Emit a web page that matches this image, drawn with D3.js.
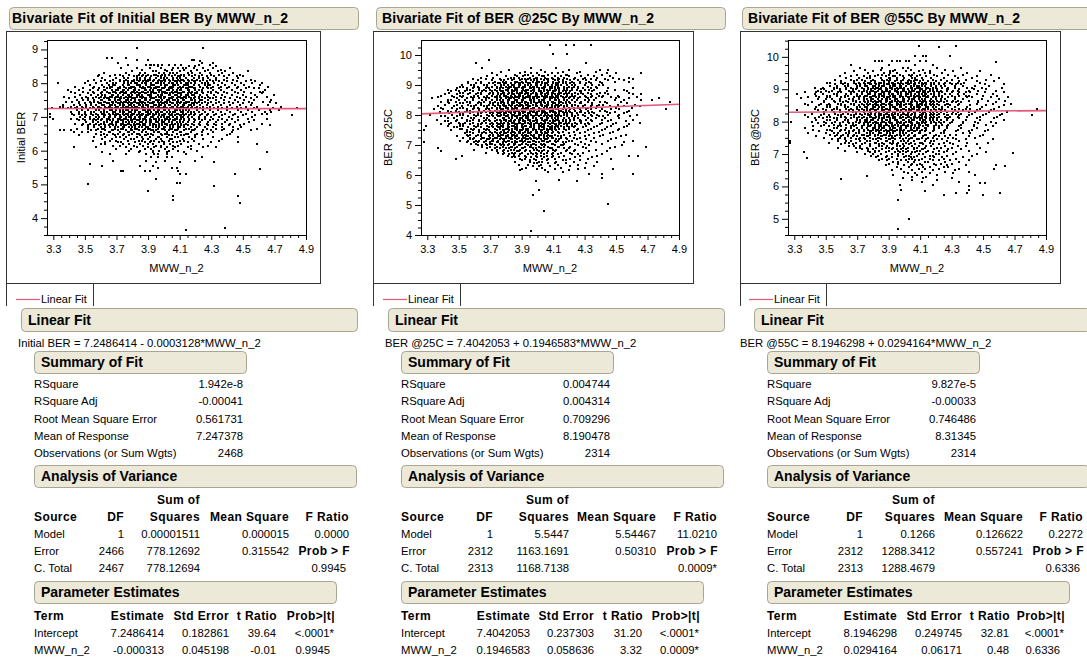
<!DOCTYPE html>
<html><head><meta charset="utf-8">
<script src="https://cdn.jsdelivr.net/npm/d3@7"></script>
<style>
html,body{margin:0;padding:0;background:#fff;}
svg{display:block;}
</style></head><body>
<svg id="chart" width="1087" height="659"></svg>
<script>
// ---- Report text ----
const panelTitles = ["Bivariate Fit of Initial BER By MWW_n_2", "Bivariate Fit of BER @25C By MWW_n_2", "Bivariate Fit of BER @55C By MWW_n_2"];
const responseNames = ["Initial BER", "BER @25C", "BER @55C"];
const factorName = "MWW_n_2";
const xTickValues = [3.3, 3.5, 3.7, 3.9, 4.1, 4.3, 4.5, 4.7, 4.9];
const yTicksInitial = [4, 5, 6, 7, 8, 9];
const yTicks25 = [4, 5, 6, 7, 8, 9, 10];
const yTicks55 = [5, 6, 7, 8, 9, 10];
const fitIntercepts = [7.2486414, 7.4042053, 8.1946298];
const fitSlopes = [-0.0003128, 0.1946583, 0.0294164];
const equations = ["Initial BER = 7.2486414 - 0.0003128*MWW_n_2", "BER @25C = 7.4042053 + 0.1946583*MWW_n_2", "BER @55C = 8.1946298 + 0.0294164*MWW_n_2"];
const summaryLabels = ["RSquare", "RSquare Adj", "Root Mean Square Error", "Mean of Response", "Observations (or Sum Wgts)"];
const summaryInitial = ["1.942e-8", "-0.00041", "0.561731", "7.247378", "2468"];
const summary25 = ["0.004744", "0.004314", "0.709296", "8.190478", "2314"];
const summary55 = ["9.827e-5", "-0.00033", "0.746486", "8.31345", "2314"];
const anovaHeader = ["Source", "DF", "Squares", "Mean Square", "F Ratio"];
const anovaInitial = [["Model", "1", "0.00001511", "0.000015", "0.0000"], ["Error", "2466", "778.12692", "0.315542", "Prob > F"], ["C. Total", "2467", "778.12694", "", "0.9945"]];
const anova25 = [["Model", "1", "5.5447", "5.54467", "11.0210"], ["Error", "2312", "1163.1691", "0.50310", "Prob > F"], ["C. Total", "2313", "1168.7138", "", "0.0009*"]];
const anova55 = [["Model", "1", "0.1266", "0.126622", "0.2272"], ["Error", "2312", "1288.3412", "0.557241", "Prob > F"], ["C. Total", "2313", "1288.4679", "", "0.6336"]];
const paramHeader = ["Term", "Estimate", "Std Error", "t Ratio", "Prob>|t|"];
const paramInitial = [["Intercept", "7.2486414", "0.182861", "39.64", "<.0001*"], ["MWW_n_2", "-0.000313", "0.045198", "-0.01", "0.9945"]];
const param25 = [["Intercept", "7.4042053", "0.237303", "31.20", "<.0001*"], ["MWW_n_2", "0.1946583", "0.058636", "3.32", "0.0009*"]];
const param55 = [["Intercept", "8.1946298", "0.249745", "32.81", "<.0001*"], ["MWW_n_2", "0.0294164", "0.06171", "0.48", "0.6336"]];

// ---- Observations, grouped by response level ----
// each row: [response x 100, [MWW_n_2 x 100, ...]]
const rowsInitial = [
[905,[383,425]],[875,[364,367,376]],[870,[383,390,418,419]],[865,[423]],[860,[371,424,431]],
[855,[377,389,391,392,394,396,399,403,407,411,422,429]],[850,[396,416,420,433]],
[845,[373,383,391,398,406,409,412,414,419,425,431,442]],[840,[386,401,405,413,421,428,436]],
[835,[380,393,395,402,410,417,426,434,439,453]],[830,[362,376,385,388,397,400,404,406,408,415,418,423,429,437,444]],
[825,[359,369,372,378,384,387,390,394,395,399,401,403,407,411,413,416,420,424,430,435,441,448]],
[820,[358,366,374,381,383,386,389,392,396,398,401,405,409,410,413,418,422,427,432,438,446,450]],
[815,[361,370,375,377,383,385,388,391,395,398,400,402,406,408,410,414,419,422,425,428,433,440,447]],
[810,[356,363,368,372,376,381,383,385,388,390,391,394,397,400,401,403,406,409,411,412,415,418,421,425,429,433,438,444,455]],
[805,[352,360,366,372,375,377,380,381,384,387,389,390,393,396,398,399,401,404,407,408,410,413,416,419,420,423,427,431,435,440,446,452,458]],
[800,[333,350,357,364,368,370,375,377,379,382,383,386,388,389,392,395,396,398,400,403,405,406,408,411,414,415,417,420,424,426,428,432,437,443,449,456,462]],
[795,[353,361,365,368,369,374,377,378,383,384,385,389,392,393,394,398,401,402,406,407,409,413,414,415,419,422,426,428,429,434,439,445,451,461]],
[790,[344,356,362,366,367,372,375,379,380,381,385,387,390,391,395,396,397,401,404,405,406,410,412,416,417,418,423,427,431,436,441,447,454,466]],
[785,[349,355,359,364,366,371,372,376,378,379,382,386,387,388,392,394,395,399,400,403,404,405,409,411,414,415,419,420,425,428,430,435,440,446,452,457,460]],
[780,[339,346,353,358,362,363,367,370,371,374,375,377,381,382,384,388,389,391,393,396,397,398,402,403,406,408,410,411,415,416,420,422,424,431,436,443,449,464]],
[775,[341,349,355,361,364,368,369,373,374,376,380,381,383,386,387,390,392,393,397,399,400,401,405,407,408,412,413,416,418,421,424,428,430,433,438,445,451,461,463]],
[770,[344,352,356,360,365,366,370,372,375,376,379,382,384,385,388,389,392,394,395,399,401,402,404,406,409,410,411,415,417,420,421,425,430,434,440,447,455,462]],
[765,[347,354,358,361,363,367,368,371,374,377,378,380,383,384,386,390,391,392,396,398,399,403,404,407,408,411,414,415,418,419,423,427,432,437,443,450,458,470]],
[760,[337,344,351,357,360,363,366,367,370,371,373,376,378,379,383,385,386,387,391,392,395,397,398,400,401,405,406,409,410,413,414,416,420,422,424,428,433,439,446,452,459,465]],
[755,[340,348,352,355,359,362,364,365,369,372,373,375,377,380,381,382,386,388,389,392,393,394,398,400,403,404,405,408,411,412,414,417,419,422,426,429,431,436,442,448,455]],
[750,[345,349,352,356,360,361,365,366,369,371,372,376,377,379,382,384,385,388,389,391,395,396,397,399,402,403,406,407,409,412,413,417,418,420,423,424,428,433,438,445,451,457,468]],
[745,[338,342,346,353,356,358,362,363,367,368,370,373,375,376,378,381,382,385,386,387,390,393,394,396,398,401,402,404,408,409,411,414,415,416,420,422,426,430,435,441,447,454,463,467]],
[740,[346,350,354,359,360,364,365,368,371,372,374,377,379,380,383,384,386,388,391,392,393,397,399,400,402,405,406,408,410,413,414,418,419,421,424,428,433,438,444,450,456,471]],
[735,[336,343,347,351,354,357,361,362,366,367,369,372,374,375,378,379,381,384,385,387,389,390,394,395,397,398,401,403,404,407,409,412,413,416,417,419,423,427,431,436,442,448,455,466]],
[730,[334,336,341,345,348,351,355,358,359,363,365,366,370,371,374,376,377,380,382,383,386,387,390,392,393,396,397,400,401,405,406,408,411,412,415,418,421,425,429,434,440,446,452,459,474]],
[725,[329,339,344,349,353,356,360,363,364,367,369,370,373,375,378,379,381,384,386,387,388,392,393,395,398,399,402,404,405,409,410,413,414,417,420,423,427,432,437,443,449,457,469,484]],
[720,[345,348,352,357,359,362,366,367,370,372,374,376,377,380,382,383,387,388,390,391,394,396,397,400,401,403,407,408,410,412,414,416,421,425,429,434,440,447,453,460,467,473]],
[715,[341,346,350,354,356,360,362,364,368,369,372,374,375,378,379,382,384,385,389,390,392,395,396,398,399,402,404,406,407,411,412,415,417,419,422,426,431,436,442,449,456,464,468]],
[710,[328,342,346,350,354,357,361,362,365,368,370,371,374,376,377,380,381,384,386,387,390,391,393,395,397,400,401,403,405,408,409,412,414,417,420,424,428,433,439,445,452,462,465]],
[705,[343,348,351,355,358,362,363,366,369,370,372,375,377,379,380,383,385,386,389,390,393,394,397,399,400,404,405,407,410,411,413,416,419,423,427,432,437,444,450,458,481]],
[700,[328,347,350,353,357,359,362,365,366,369,372,373,376,378,379,382,384,385,388,389,392,393,396,398,400,402,403,406,408,411,412,415,418,422,426,430,435,441,447,456]],
[695,[330,341,345,349,353,356,358,361,364,365,368,371,372,375,376,379,381,382,385,387,388,391,394,395,397,401,402,404,407,408,411,413,416,419,422,426,431,437,443,453,465]],
[690,[346,350,355,357,360,364,366,368,371,373,374,377,379,380,383,384,387,389,391,392,395,397,399,401,403,406,407,410,413,416,420,424,429,434,440,447,457]],
[685,[351,355,358,362,364,367,370,371,374,376,378,380,382,385,386,389,391,392,395,396,399,400,403,405,408,410,412,415,419,423,428,433,439,445,454]],
[680,[344,349,353,357,360,362,366,367,370,373,374,377,378,381,383,384,387,388,391,393,394,397,399,401,402,405,407,409,411,414,418,422,427,432,437,442,451,462]],
[675,[348,352,356,359,363,365,368,370,373,375,376,379,381,382,385,387,388,391,393,395,397,399,402,404,406,409,411,413,415,419,423,428,433,441,448,467]],
[670,[352,356,360,363,366,369,371,374,375,378,380,382,384,386,389,390,393,395,397,400,401,404,406,409,410,413,417,421,426,431,437,444,449]],
[665,[345,352,358,361,362,369,373,374,379,382,383,388,390,391,396,399,400,404,405,409,414,416,420,427,433,438,447,459]],
[660,[334,337,341,354,357,363,367,368,371,376,379,380,384,387,392,393,395,401,403,407,408,413,418,419,425,430,437,444,455]],
[655,[343,348,352,360,365,366,372,377,378,381,386,389,394,396,397,402,406,410,411,417,424,431,443]],
[650,[357,362,368,371,375,380,383,384,390,392,398,401,402,408,414,415,421,428,442]],
[645,[346,360,364,369,374,378,385,388,389,393,399,403,405,411,413,420,424,440]],
[640,[356,363,370,372,376,383,386,391,396,397,402,407,409,416,420,431,447]],
[635,[361,367,375,379,381,387,390,395,398,404,405,412,418,425,437]],
[630,[355,366,370,377,384,386,392,394,399,403,410,413,419,435]],
[625,[363,371,373,382,388,391,397,400,406,408,415,430,447]],
[620,[360,363,374,378,385,390,393,400,404,411,422,459]],
[615,[368,372,381,387,395,398,406,409,417,428]],
[610,[343,357,376,383,390,394,398,402,407,415,425,433]],
[605,[370,379,388,392,401,406,417]],[600,[378,385,393,397,403,409,421]],[595,[361,384,393,402,413,465]],
[590,[366,376,389,394,396,402,414]],[580,[392,396,402,405,424]],[570,[368,389,401,420]],[565,[395,410,432]],
[560,[353]],[555,[361,385,393]],[550,[396,405,408]],[545,[461]],[540,[373,374,388,391,409]],[530,[410,414,445]],
[515,[395]],[505,[408,410]],[500,[352]],[495,[432]],[480,[390]],[465,[406,447]],[455,[406]],[445,[448]],[370,[439]],[365,[414]]
];
const rows25 = [
[1033,[408,418,423,434]],[1003,[410,419]],[985,[369]],[975,[361,431]],[955,[365,396,412]],[950,[382,402,420,440,445]],
[945,[377,392,405,416,427,437]],[940,[371,389,396,400,409,413,425,444,450,466]],[935,[374,386,392,394,401,407,418,419,432,441]],
[930,[368,380,387,391,397,403,404,411,415,420,428,436,446]],[925,[364,372,383,385,388,395,399,400,405,409,413,417,424,430,438,448,458]],
[920,[359,367,376,381,385,390,392,394,398,402,406,407,410,414,419,423,429,434,443,452,461]],
[915,[362,371,377,379,384,389,393,396,398,400,404,407,411,413,416,421,426,431,437,445,455]],
[910,[356,364,373,378,380,386,387,390,393,397,400,401,403,407,410,414,416,418,422,427,433,440,449,458]],
[905,[356,361,364,369,372,375,376,379,380,383,386,388,389,391,394,395,399,400,403,405,406,410,412,413,416,418,421,423,427,431,434,441]],
[900,[352,358,360,366,368,373,377,379,381,384,385,388,389,392,394,396,399,400,402,405,407,409,412,413,415,419,422,424,430,435,439,442]],
[895,[351,353,360,362,368,371,374,377,380,382,383,385,388,391,392,395,397,398,400,404,405,408,409,411,413,417,420,423,426,432,437]],
[890,[349,355,359,363,367,369,374,376,378,381,382,386,387,390,391,395,396,398,401,403,404,408,409,411,413,414,417,419,422,426,429,434,438,445,461]],
[885,[343,348,355,357,363,366,370,373,376,380,381,384,386,387,391,393,394,397,398,401,404,406,408,411,412,414,417,419,422,425,430,433,436,449,455]],
[880,[345,350,354,359,365,367,371,374,377,378,381,384,385,387,390,392,393,396,398,401,402,404,407,410,411,414,416,418,421,427,428,435,444,457]],
[875,[344,351,353,357,362,364,370,372,375,378,379,382,384,387,389,390,393,394,397,399,402,403,406,407,409,410,414,415,418,420,424,428,432,440,443,458]],
[870,[341,349,356,361,364,369,372,375,377,379,381,384,385,388,389,392,394,396,399,400,402,405,407,409,411,413,414,417,419,422,426,429,434,438,445,461,466]],
[865,[339,346,351,353,360,362,368,371,374,376,379,380,383,386,388,389,391,394,395,399,400,403,405,406,409,412,413,415,419,422,424,430,435,439,442,451]],
[860,[337,347,352,358,360,366,368,373,376,380,381,384,386,387,391,393,394,397,398,401,404,406,408,410,412,413,416,418,421,423,427,431,434,441,447,452,463]],
[855,[333,349,355,359,363,367,369,374,377,380,382,383,385,388,391,392,395,397,398,400,404,405,408,409,411,413,417,420,423,426,432,437,450,458,477]],
[850,[343,345,350,354,359,365,367,371,374,376,378,381,382,386,387,390,391,395,396,398,401,403,404,408,411,412,414,417,419,422,425,430,433,436,449,455,466,473]],
[845,[339,343,348,355,357,363,366,370,373,377,378,381,384,385,387,390,392,393,396,398,401,402,404,407,409,410,414,415,418,420,424,428,432,440,443,453,484]],
[840,[344,351,353,357,362,364,370,372,375,377,379,381,384,385,388,389,392,394,396,399,400,402,405,407,410,411,414,416,418,421,427,428,435,444,457]],
[835,[341,349,356,361,364,369,372,375,378,379,382,384,387,389,390,393,394,397,399,402,403,406,407,409,412,413,415,419,422,424,430,435,439,442,451,462]],
[830,[337,347,352,358,360,366,368,373,376,379,380,383,386,388,389,391,394,395,399,400,403,405,406,409,411,413,414,417,419,422,426,429,434,438,446,455,465]],
[825,[339,346,351,353,360,362,368,371,374,376,380,381,384,386,387,391,393,394,397,398,401,404,406,408,409,411,413,417,420,423,426,432,437,450,460]],
[820,[334,340,349,355,359,363,367,369,374,377,378,381,384,385,387,390,392,393,396,398,401,402,404,407,410,412,413,416,418,421,423,427,431,434,441,447,452,482]],
[815,[343,348,355,357,363,366,370,373,376,378,381,382,386,387,390,391,395,396,398,401,403,404,408,409,410,414,415,418,420,424,428,432,440,443,458]],
[810,[338,345,350,354,359,365,367,371,374,377,380,382,383,385,388,391,392,395,397,398,400,404,405,408,410,411,414,416,418,421,427,428,435,444,449,457]],
[805,[344,351,353,357,362,364,370,372,375,376,379,380,383,386,388,389,391,394,395,399,400,403,405,406,411,412,414,417,419,422,425,430,433,436,446,455]],
[800,[332,346,351,353,360,362,368,371,374,377,379,381,384,385,388,389,392,394,396,399,400,402,405,407,409,411,413,414,417,419,422,426,429,434,438,445,452,463]],
[795,[339,341,349,356,361,364,369,372,375,376,380,381,384,386,387,391,393,394,397,398,401,404,406,408,409,412,413,415,419,422,424,430,435,439,442,451,459]],
[790,[343,347,352,358,360,366,368,373,378,379,382,384,387,389,390,393,394,397,399,402,403,406,407,409,411,413,417,420,423,426,432,437,443,452]],
[785,[336,349,355,359,363,367,369,374,376,379,380,383,386,388,389,391,394,395,399,400,403,405,406,410,412,413,416,418,421,423,427,431,434,441,447,461]],
[780,[341,343,348,355,357,363,366,370,373,377,380,382,383,385,388,391,392,395,397,398,400,404,405,408,410,411,414,416,418,421,427,428,435,445,456]],
[775,[345,350,354,359,365,367,371,374,377,379,381,384,385,388,389,392,394,396,399,400,402,405,407,409,410,414,415,418,420,424,428,432,441,450,465]],
[770,[339,344,351,353,357,362,364,370,372,375,376,378,381,382,386,387,390,391,395,396,398,401,403,404,408,411,412,414,417,419,422,425,430,433,440,448,458]],
[765,[329,343,351,353,360,362,368,371,374,377,378,381,384,385,387,390,392,393,396,398,401,402,404,407,409,412,413,415,419,422,424,431,438,447,457]],
[760,[347,349,356,361,364,369,372,375,376,378,381,382,386,387,390,391,395,396,398,401,403,404,408,409,411,413,417,420,423,429,436,444,455]],
[755,[351,352,358,360,366,368,373,376,380,381,384,386,387,391,393,394,397,398,401,404,406,408,409,411,414,417,420,426,434,443,452]],
[750,[328,345,355,359,363,367,369,374,378,379,382,384,387,389,390,393,394,397,399,402,403,406,407,409,412,418,425,432,441,451]],
[745,[355,357,363,366,370,373,377,379,381,384,385,388,389,392,394,396,399,400,402,405,407,410,413,416,423,430,439,448]],
[740,[354,359,365,367,371,374,376,379,380,383,386,388,389,391,394,395,399,400,403,405,406,409,414,420,427,436,446]],
[735,[355,357,362,364,370,372,375,377,378,381,384,385,387,390,392,393,396,398,401,402,404,407,411,417,424,433,442,456]],
[730,[349,356,361,364,369,372,375,376,380,381,384,386,387,391,393,394,397,398,401,404,406,408,409,413,415,421,430,440,453]],
[725,[353,357,360,365,366,370,373,374,377,380,382,383,386,388,391,392,395,398,399,401,404,407,409,410,415,418,423,427,436,450]],
[720,[357,359,364,368,369,372,376,378,379,383,384,387,390,393,394,396,400,402,405,406,412,414,419,425,431,447]],
[715,[351,356,361,363,367,371,372,375,379,381,382,386,389,390,392,397,398,403,404,408,411,413,420,422,434,445,461]],
[710,[328,355,360,362,366,370,374,375,378,380,384,386,387,391,394,395,399,401,406,407,412,416,418,428,437,455]],
[705,[358,361,367,370,371,376,378,382,385,386,390,393,397,398,402,404,409,410,417,424,430,441]],
[700,[362,365,368,373,377,379,381,385,388,389,394,396,399,403,405,411,415,416,426,433,454]],
[695,[365,370,374,378,383,384,387,392,395,396,401,404,407,413,414,421,429,449,469]],
[690,[337,368,373,376,380,382,386,390,391,397,399,402,408,409,417,420,431,446]],
[685,[360,371,374,379,383,385,389,393,398,400,404,410,412,419,424,437]],
[680,[339,374,378,381,387,388,392,395,401,403,407,411,418,423,433,444]],
[675,[367,375,379,384,386,390,396,399,402,406,410,415,421,429]],
[670,[378,382,385,389,394,397,400,404,409,413,422,426,441]],
[665,[352,381,385,388,392,399,402,406,410,417,427,438,458,464]],
[660,[384,386,393,396,400,404,409,414,424,435]],
[655,[348,389,392,398,403,407,411,421,432,447]],[650,[390,395,399,406,416,418,427]],
[645,[386,395,401,403,412,423,438]],[640,[398,400,407,411,418,431]],[635,[388,394,402,413,426]],[630,[397,401,408,421,436]],
[625,[393,403,415,430]],[620,[390,400,411,426,448]],[615,[389,405,420]],[610,[407,416]],[605,[433,441,461]],
[590,[441]],[585,[414]],[580,[399,425]],[550,[401]],[535,[397]],[505,[445]],[480,[404]],[412,[396]]
];
const rows55 = [
[1035,[433]],[1033,[409]],[1030,[422]],[1004,[407,412,414,429]],[987,[381,384,386,392,395,397,401,403,410,414]],[984,[458]],
[975,[366,390,407,418]],[965,[372,386,399,402,421,436]],[960,[375,385,394,404,412,426]],[955,[368,380,391,393,401,409,416,431,448]],
[950,[362,377,387,391,395,406,413,416,424,440]],[945,[370,383,386,390,397,403,405,410,419,428,437,455]],
[940,[359,366,374,378,381,388,393,394,399,404,408,414,421,432,446]],[935,[363,371,376,378,385,390,391,395,400,405,407,411,417,425,434,443,460]],
[930,[356,366,370,373,380,386,389,391,395,399,403,407,408,412,418,423,430,439,452]],
[925,[360,368,375,379,381,387,390,394,398,402,404,406,410,415,420,427,435,446,457]],
[920,[351,353,360,362,368,371,374,377,378,381,384,385,387,390,392,393,396,398,401,402,404,407,409,411,413,414,417,419,422,426,429,434,438,448]],
[915,[356,361,364,369,372,375,378,379,382,384,387,389,390,393,394,397,399,402,403,406,407,411,412,414,417,419,422,425,430,433,436,451,463]],
[910,[353,357,362,364,370,372,375,376,380,381,384,386,387,391,393,394,397,398,401,404,406,408,409,411,413,417,420,423,426,432,437,445,454]],
[905,[343,348,355,357,363,366,370,373,377,380,382,383,385,388,391,392,395,397,398,400,404,405,408,409,410,414,415,418,420,424,428,432,440,443,449,462]],
[900,[347,349,355,359,363,367,369,374,377,379,381,384,385,388,389,392,394,396,399,400,402,405,407,410,411,414,416,418,421,427,428,435,444,452]],
[895,[345,350,354,359,365,367,371,374,376,379,380,383,386,388,389,391,394,395,399,400,403,405,406,410,412,413,416,418,421,423,427,431,434,441,447,458]],
[890,[337,344,347,352,358,360,366,368,373,376,378,381,382,386,387,390,391,395,396,398,401,403,404,408,409,412,413,415,419,422,424,430,435,439,442,451,463]],
[885,[343,348,355,357,363,366,370,373,377,378,381,384,385,387,390,392,393,396,398,401,402,404,407,409,411,413,414,417,419,422,426,429,434,438,446,456]],
[884,[332]],
[880,[344,351,353,357,362,364,370,372,375,376,380,381,384,386,387,391,393,394,397,398,401,404,406,408,409,412,413,415,419,422,424,430,435,439,441,450,459]],
[875,[339,346,351,353,360,362,368,371,374,378,379,382,384,387,389,390,393,394,397,399,402,403,406,407,409,410,414,415,418,420,424,428,432,440,443,455,466]],
[872,[334]],
[870,[345,350,354,359,365,367,371,374,376,379,380,383,386,388,389,391,394,395,399,400,403,405,406,409,411,413,417,420,423,426,432,437,449,460]],
[865,[349,355,359,363,367,369,374,377,379,381,384,385,388,389,392,394,396,399,400,402,405,407,410,412,413,416,418,421,423,427,431,434,441,447,453,464]],
[860,[341,349,356,361,364,369,372,375,377,380,382,383,385,388,391,392,395,397,398,400,404,405,408,411,412,414,417,419,422,425,430,433,436,447,458]],
[855,[337,347,352,358,360,366,368,373,376,378,381,382,386,387,390,391,395,396,398,401,403,404,408,410,411,414,416,418,421,427,428,435,446,456,468]],
[850,[339,346,351,353,360,362,368,371,374,377,380,382,383,385,388,391,392,395,397,398,400,404,405,408,409,411,413,414,417,419,422,426,429,434,442,452,463]],
[845,[344,351,353,357,362,364,370,372,375,376,380,381,384,386,387,391,393,394,397,398,401,404,406,408,409,410,414,415,418,420,424,428,432,440,449,460]],
[840,[343,348,355,357,363,366,370,373,376,379,380,383,386,388,389,391,394,395,399,400,403,405,406,409,412,413,415,419,422,424,430,435,439,442,448,457,484]],
[835,[332,345,350,354,359,365,367,371,374,376,378,381,382,386,387,390,391,395,396,398,401,403,404,408,409,411,413,417,420,423,426,432,437,446,455]],
[830,[349,355,359,363,367,369,374,378,379,382,384,387,389,390,393,394,397,399,402,403,406,407,410,412,413,416,418,421,423,427,431,434,441,445,454,465]],
[825,[341,349,356,361,364,369,372,375,377,379,381,384,385,388,389,392,394,396,399,400,402,405,407,411,412,414,417,419,422,425,430,433,436,443,452,462]],
[820,[337,347,352,358,360,366,368,373,377,378,381,384,385,387,390,392,393,396,398,401,402,404,407,410,411,414,416,418,421,427,428,435,441,450,461,481]],
[815,[339,346,351,353,360,362,368,371,374,378,379,382,384,387,389,390,393,394,397,399,402,403,406,407,409,411,413,414,417,419,422,426,429,434,440,448,459]],
[810,[343,348,355,357,363,366,370,373,376,380,381,384,386,387,391,393,394,397,398,401,404,406,408,410,411,414,416,418,421,427,428,435,446,457]],
[805,[344,351,353,357,362,364,370,372,375,376,379,380,383,386,388,389,391,394,395,399,400,403,405,406,410,412,413,416,418,421,423,427,431,439,448,463]],
[800,[341,349,356,361,364,369,372,375,376,378,381,382,386,387,390,391,395,396,398,401,403,404,408,411,412,414,417,419,422,425,430,437,445,455]],
[798,[328]],
[795,[345,350,354,359,365,367,371,374,377,380,382,383,385,388,391,392,395,397,398,400,404,405,408,409,411,413,417,420,423,429,437,447,458]],
[790,[349,355,359,363,367,369,374,377,379,381,384,385,388,389,392,394,396,399,400,402,405,407,409,410,414,415,420,424,428,436,444,452]],
[785,[342,347,352,358,360,366,368,373,377,378,381,384,385,387,390,392,393,396,398,401,402,404,407,409,412,415,419,422,427,435,444,456]],
[780,[337,355,357,363,366,370,373,376,380,381,384,386,387,391,393,394,397,398,401,404,406,408,409,413,414,419,422,427,436,446]],
[775,[342,351,353,360,362,368,371,374,377,380,382,383,385,388,391,392,395,397,398,400,404,405,408,411,414,419,426,434,443,453]],
[770,[346,354,359,365,367,371,374,378,379,382,384,387,389,390,393,394,397,399,402,403,406,407,410,413,418,425,433,441,451]],
[765,[339,350,355,358,363,365,369,371,376,378,380,384,385,389,391,393,397,399,401,405,409,410,416,423,425,437,442]],
[760,[353,357,361,364,368,373,374,378,381,383,387,388,391,395,397,400,403,407,413,414,420,429,433,450]],
[755,[344,356,360,364,367,370,376,377,381,385,386,390,392,394,398,402,406,407,412,419,422,426,441,448]],
[750,[349,359,362,366,372,374,378,383,384,388,392,393,397,401,404,405,411,415,418,428,431,445]],
[745,[354,358,362,369,371,375,380,382,385,390,391,394,399,403,408,409,414,421,424,433,439,456]],
[740,[327,358,363,366,372,376,378,383,388,389,393,398,400,402,406,413,417,419,427,435]],
[735,[352,362,365,369,375,381,382,386,391,393,396,401,404,410,411,416,425,429,440,453]],[733,[327]],
[730,[360,367,373,378,384,387,392,395,399,403,407,412,418,422,431,446]],
[725,[365,368,372,378,384,386,389,395,397,400,405,409,414,417,426,434,439]],
[720,[358,369,372,376,382,388,390,393,399,402,406,408,413,421,423,430,448]],
[715,[373,377,380,386,392,395,398,401,406,411,412,419,428,436]],
[710,[362,377,381,384,390,396,399,402,408,410,415,422,427,441]],[706,[336]],
[705,[370,378,381,388,394,397,401,405,407,414,418,425,433,452]],[702,[469]],
[700,[375,380,385,392,396,399,404,409,412,420,422,431,446]],
[695,[379,383,389,396,401,403,408,416,418,427,443]],[690,[382,388,392,400,404,406,413,419,424,437]],[688,[338]],
[685,[386,390,395,403,405,411,416,425,433]],[680,[384,389,398,401,407,409,418,422,429,441]],[675,[393,396,402,406,413,415,426,435]],
[670,[390,396,405,410,419,423,430]],[665,[388,400,404,408,411,420,427,439,458]],[663,[464]],[660,[395,403,412,416,425,428]],
[655,[398,409,413,422,435]],[654,[457]],[650,[392,405,418,432]],[645,[400,411,426,441]],[640,[402,407,416,431]],
[635,[393,408,421,445]],[632,[376]],[630,[405,414]],[625,[399,412,430]],[622,[360]],[620,[405,421]],[615,[411,435]],
[611,[451,448]],[605,[397,418]],[600,[441]],
[590,[398,441]],[585,[413]],[580,[440,433,461]],[575,[425,450]],[558,[396]],[500,[403]],[470,[396]]
];

// ---- Drawing ----
const FONT = '"Liberation Sans", Arial, Helvetica, sans-serif';
const BAR_FILL = "#ECE9D8";
const BAR_STROKE = "#A9A592";
const FIT_COLOR = "#E4587A";

const svg = d3.select("#chart");
svg.append("rect").attr("width", 1087).attr("height", 659).attr("fill", "#fff");

function txt(g, x, y, s, o = {}) {
  return g.append("text").attr("x", x).attr("y", y).text(s)
    .attr("font-family", FONT).attr("font-size", o.size || 11.3)
    .attr("font-weight", o.bold ? "bold" : null)
    .attr("text-anchor", o.anchor || "start")
    .attr("letter-spacing", o.ls || null)
    .attr("fill", "#000");
}
function outlineBar(g, x, y, w, h, title, dx = 7, len = null) {
  g.append("rect").attr("x", x + 0.5).attr("y", y + 0.5).attr("width", w).attr("height", h)
    .attr("rx", 4).attr("fill", BAR_FILL).attr("stroke", BAR_STROKE);
  const t = txt(g, x + dx, y + h / 2 + 5, title, {bold: true, size: 14});
  if (len) t.attr("textLength", len).attr("lengthAdjust", "spacing");
}
function toPoints(rows) {
  const pts = [];
  rows.forEach(([yh, xs]) => xs.forEach(xh => pts.push([xh / 100, yh / 100])));
  return pts;
}

const panels = [
  {title: panelTitles[0], response: responseNames[0], rows: rowsInitial, yDomain: [3.5, 9.28], yTicks: yTicksInitial,
   b0: fitIntercepts[0], b1: fitSlopes[0], eq: equations[0], summary: summaryInitial, anova: anovaInitial, params: paramInitial},
  {title: panelTitles[1], response: responseNames[1], rows: rows25, yDomain: [4, 10.5], yTicks: yTicks25,
   b0: fitIntercepts[1], b1: fitSlopes[1], eq: equations[1], summary: summary25, anova: anova25, params: param25},
  {title: panelTitles[2], response: responseNames[2], rows: rows55, yDomain: [4.5, 10.52], yTicks: yTicks55,
   b0: fitIntercepts[2], b1: fitSlopes[2], eq: equations[2], summary: summary55, anova: anova55, params: param55}
];
const layout = [
  {off: 0, frame: [6, 320], plot: [47, 306], yLab: 21, eqX: 18, tdx: 3, tlen: 276, cols: [124, 200, 289, 349], pcols: [164, 229, 277, 335]},
  {off: 367, frame: [373, 693], plot: [421, 679], yLab: 388, eqX: 385, tdx: 6, tlen: 272, cols: [126, 202, 289, 350], pcols: [163, 227, 276, 333]},
  {off: 733, frame: [740, 1060], plot: [788, 1046], yLab: 755, eqX: 740, tdx: 6, tlen: 272, cols: [130, 202, 290, 350], pcols: [164, 229, 277, 332]}
];
const PLOT_TOP = 40, PLOT_BOTTOM = 235, FRAME_TOP = 31, FRAME_BOTTOM = 283;

panels.forEach((p, i) => {
  const L = layout[i];
  const o = L.off;
  const g = svg.append("g");

  // report title bar
  outlineBar(g, o + 9, 7, 349, 22, p.title, L.tdx, L.tlen);

  // graph frame
  g.append("rect").attr("x", L.frame[0] + 0.5).attr("y", FRAME_TOP + 0.5)
    .attr("width", L.frame[1] - L.frame[0]).attr("height", FRAME_BOTTOM - FRAME_TOP)
    .attr("fill", "none").attr("stroke", "#333");

  const x = d3.scaleLinear().domain([3.26, 4.9]).range([L.plot[0], L.plot[1]]);
  const y = d3.scaleLinear().domain(p.yDomain).range([PLOT_BOTTOM, PLOT_TOP]);

  // points
  const clipId = "clip" + i;
  g.append("clipPath").attr("id", clipId).append("rect")
    .attr("x", L.plot[0]).attr("y", PLOT_TOP).attr("width", L.plot[1] - L.plot[0]).attr("height", PLOT_BOTTOM - PLOT_TOP);
  const pts = toPoints(p.rows);
  g.append("g").attr("clip-path", `url(#${clipId})`).selectAll("rect").data(pts).join("rect")
    .attr("x", d => Math.round(x(d[0])) - 1).attr("y", d => Math.round(y(d[1])) - 1)
    .attr("width", 2).attr("height", 2).attr("fill", "#000");

  // linear fit
  const xd = x.domain();
  g.append("path").attr("clip-path", `url(#${clipId})`)
    .attr("d", d3.line().x(d => x(d)).y(d => y(p.b0 + p.b1 * d))(xd))
    .attr("stroke", FIT_COLOR).attr("stroke-width", 1.6).attr("fill", "none");

  // plot border
  g.append("rect").attr("x", L.plot[0] + 0.5).attr("y", PLOT_TOP + 0.5)
    .attr("width", L.plot[1] - L.plot[0]).attr("height", PLOT_BOTTOM - PLOT_TOP)
    .attr("fill", "none").attr("stroke", "#000");

  // x axis
  const minorX = d3.range(3.3, 4.9001, 0.05).filter(v => !xTickValues.some(t => Math.abs(t - v) < 1e-6));
  g.append("g").attr("transform", `translate(0,${PLOT_BOTTOM})`)
    .call(d3.axisBottom(x).tickValues(minorX).tickSize(3).tickFormat(""))
    .call(s => s.select(".domain").remove());
  g.append("g").attr("transform", `translate(0,${PLOT_BOTTOM})`)
    .call(d3.axisBottom(x).tickValues(xTickValues).tickSize(5).tickPadding(5).tickFormat(d3.format(".1f")))
    .call(s => s.select(".domain").remove())
    .attr("font-family", FONT).attr("font-size", 11);
  txt(g, (L.plot[0] + L.plot[1]) / 2, 272, factorName, {anchor: "middle", size: 11});

  // y axis
  const yd = p.yDomain;
  const minorY = d3.range(Math.ceil(yd[0] * 4) / 4, yd[1], 0.25).filter(v => !p.yTicks.includes(v));
  g.append("g").attr("transform", `translate(${L.plot[0]},0)`)
    .call(d3.axisLeft(y).tickValues(minorY).tickSize(3).tickFormat(""))
    .call(s => s.select(".domain").remove());
  g.append("g").attr("transform", `translate(${L.plot[0]},0)`)
    .call(d3.axisLeft(y).tickValues(p.yTicks).tickSize(6).tickPadding(3).tickFormat(d3.format("d")))
    .call(s => s.select(".domain").remove())
    .attr("font-family", FONT).attr("font-size", 11);
  txt(g, 0, 0, p.response, {anchor: "middle", size: 11})
    .attr("transform", `translate(${L.yLab + 4},${(PLOT_TOP + PLOT_BOTTOM) / 2}) rotate(-90)`);

  // legend
  g.append("line").attr("x1", L.frame[0] + 0.5).attr("x2", L.frame[0] + 0.5).attr("y1", FRAME_BOTTOM).attr("y2", 306).attr("stroke", "#333");
  g.append("line").attr("x1", o + 93.5).attr("x2", o + 93.5).attr("y1", FRAME_BOTTOM).attr("y2", 306).attr("stroke", "#333");
  g.append("line").attr("x1", o + 16).attr("x2", o + 40).attr("y1", 299.5).attr("y2", 299.5).attr("stroke", FIT_COLOR).attr("stroke-width", 1.2);
  txt(g, o + 41, 303, "Linear Fit", {size: 11});

  // Linear Fit outline
  outlineBar(g, o + 21, 308, 336, 23, "Linear Fit");
  txt(g, L.eqX, 347, p.eq, {size: 11.3});

  // Summary of Fit
  outlineBar(g, o + 34, 351, 212, 22, "Summary of Fit");
  summaryLabels.forEach((lab, k) => {
    const by = 388 + k * 17.3;
    txt(g, o + 34, by, lab);
    txt(g, o + 243, by, p.summary[k], {anchor: "end"});
  });

  // Analysis of Variance
  outlineBar(g, o + 34, 465, 322, 22, "Analysis of Variance");
  const hb = {bold: true, size: 12, ls: 0.4};
  txt(g, o + L.cols[1], 504, "Sum of", Object.assign({anchor: "end"}, hb));
  txt(g, o + 34, 521, anovaHeader[0], hb);
  anovaHeader.slice(1).forEach((h, k) => txt(g, o + L.cols[k], 521, h, Object.assign({anchor: "end"}, hb)));
  p.anova.forEach((row, r) => {
    const by = 538 + r * 17;
    txt(g, o + 34, by, row[0]);
    row.slice(1).forEach((v, k) => {
      if (!v) return;
      if (v === "Prob > F") { txt(g, o + L.cols[k] + 1, by, v, Object.assign({anchor: "end"}, hb)); return; }
      const isProb = k === 3 && r === 2;
      const xr = o + L.cols[k] - (isProb && !v.endsWith("*") ? 3 : 0);
      txt(g, xr, by, v, {anchor: "end"});
    });
  });

  // Parameter Estimates
  outlineBar(g, o + 34, 581, 302, 22, "Parameter Estimates");
  txt(g, o + 34, 620, paramHeader[0], hb);
  paramHeader.slice(1).forEach((h, k) => txt(g, o + L.pcols[k], 620, h, Object.assign({anchor: "end"}, hb)));
  p.params.forEach((row, r) => {
    const by = 637 + r * 17;
    txt(g, o + 34, by, row[0]);
    row.slice(1).forEach((v, k) => {
      let xr = o + L.pcols[k];
      if (k === 2) xr -= 1;
      if (k === 3) xr -= v.endsWith("*") ? 1 : 5;
      txt(g, xr, by, v, {anchor: "end"});
    });
  });
});
</script>
</body></html>
